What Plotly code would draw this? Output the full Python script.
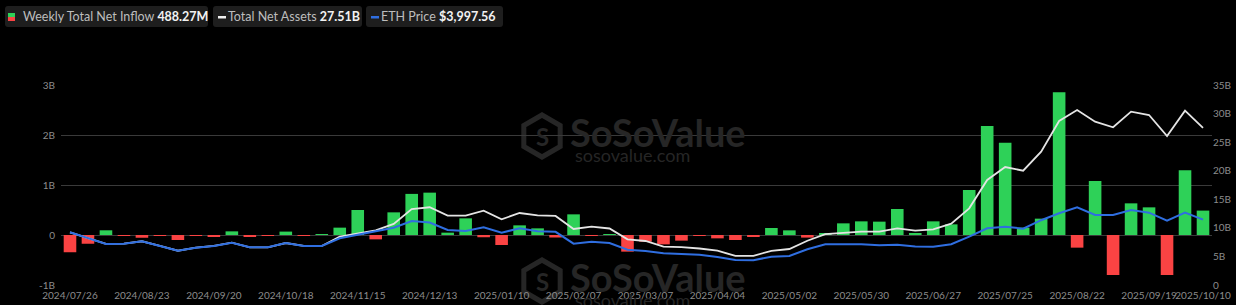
import pandas as pd
import plotly.graph_objects as go

# ---------------- DATA ----------------
weeks = [d.strftime("%Y/%m/%d") for d in pd.date_range("2024-07-26", periods=64, freq="7D")]

# Weekly total net inflow (USD)
net_inflow_b = [
    -0.345, -0.175, 0.094, -0.014, -0.055, -0.006, -0.100, -0.012, -0.022, 0.073,
    -0.022, -0.006, 0.068, -0.020, 0.008, 0.147, 0.500, -0.087, 0.453, 0.822,
    0.847, 0.047, 0.333, -0.045, -0.200, 0.193, 0.133, -0.050, 0.413, -0.020,
    0.003, -0.333, -0.133, -0.187, -0.113, -0.006, -0.067, -0.100, -0.030, 0.140,
    0.093, -0.052, 0.027, 0.233, 0.273, 0.267, 0.520, 0.033, 0.273, 0.213,
    0.900, 2.180, 1.847, 0.147, 0.327, 2.853, -0.253, 1.080, -0.800, 0.633,
    0.553, -0.800, 1.293, 0.48827,
]
net_inflow = [v * 1e9 for v in net_inflow_b]

# Total net assets (USD)
total_assets_b = [
    9.22, 8.23, 7.18, 7.23, 7.65, 6.83, 6.00, 6.53, 6.83, 7.40,
    6.60, 6.60, 7.35, 6.85, 6.83, 8.45, 9.05, 9.57, 10.68, 13.30,
    13.60, 12.13, 12.13, 13.00, 11.50, 12.60, 12.20, 12.08, 9.80, 10.20,
    9.89, 8.00, 7.70, 6.70, 6.62, 6.39, 6.00, 5.08, 5.11, 5.99,
    6.30, 7.74, 8.89, 9.14, 9.33, 9.33, 9.92, 9.50, 9.75, 10.73,
    13.42, 18.38, 20.65, 20.00, 23.33, 28.70, 30.63, 28.58, 27.60, 30.33,
    29.75, 26.08, 30.50, 27.51,
]
total_assets = [v * 1e9 for v in total_assets_b]

# ETH price (USD)
eth_price = [
    3300, 2985, 2655, 2672, 2804, 2545, 2287, 2452, 2545, 2727,
    2474, 2474, 2710, 2545, 2545, 2969, 3150, 3332, 3552, 3920,
    3838, 3425, 3370, 3574, 3277, 3519, 3359, 3326, 2672, 2782,
    2710, 2342, 2270, 2144, 2105, 2067, 1940, 1775, 1764, 1957,
    1995, 2369, 2644, 2655, 2639, 2589, 2611, 2518, 2507, 2644,
    3057, 3519, 3607, 3497, 3964, 4344, 4674, 4250, 4250, 4525,
    4377, 3937, 4377, 3997.56,
]

x_tick_idx = list(range(0, 64, 4)) + [63]
x_tick_labels = [weeks[i] for i in x_tick_idx]

left_tickvals = [-1e9, 0, 1e9, 2e9, 3e9]
left_ticktext = ["-1B", "0", "1B", "2B", "3B"]
right_tickvals = [0, 5e9, 10e9, 15e9, 20e9, 25e9, 30e9, 35e9]
right_ticktext = ["0", "5B", "10B", "15B", "20B", "25B", "30B", "35B"]

legend_labels = ["Weekly Total Net Inflow", "Total Net Assets", "ETH Price"]
legend_values = ["488.27M", "27.51B", "$3,997.56"]

# ---------------- STYLE ----------------
GREEN = "#2ed158"
RED = "#fa4343"
WHITE_LINE = "#e4e4e4"
BLUE_LINE = "#2f6ee0"
BG = "#000000"
FONT = "Lato"

W, H = 1236, 305
L, R, T, B = 61, 1212, 85, 285
PW, PH = R - L, B - T


def px2x(px):
    return (px - L) / PW


def px2y(py):
    return (B - py) / PH


def rrect(x0, y0, x1, y1, r=3):
    ax0, ax1 = px2x(x0), px2x(x1)
    ay0, ay1 = px2y(y0), px2y(y1)
    rx, ry = r / PW, r / PH
    return (f"M{ax0+rx},{ay0} L{ax1-rx},{ay0} Q{ax1},{ay0} {ax1},{ay0-ry} "
            f"L{ax1},{ay1+ry} Q{ax1},{ay1} {ax1-rx},{ay1} L{ax0+rx},{ay1} "
            f"Q{ax0},{ay1} {ax0},{ay1+ry} L{ax0},{ay0-ry} Q{ax0},{ay0} {ax0+rx},{ay0} Z")


bar_colors = [GREEN if v >= 0 else RED for v in net_inflow]

fig = go.Figure()
fig.add_trace(go.Bar(x=weeks, y=net_inflow, marker=dict(color=bar_colors, line=dict(width=0)),
                     yaxis="y", name=legend_labels[0]))
fig.add_trace(go.Scatter(x=weeks, y=total_assets, mode="lines", line=dict(color=WHITE_LINE, width=1.8),
                         yaxis="y2", name=legend_labels[1]))
fig.add_trace(go.Scatter(x=weeks, y=eth_price, mode="lines", line=dict(color=BLUE_LINE, width=2),
                         yaxis="y3", name=legend_labels[2]))

shapes = []
annotations = []

# legend badges
boxes = [(5, 208), (213, 362), (366, 503)]
text_x = [21, 226, 379]
for (bx0, bx1) in boxes:
    shapes.append(dict(type="path", xref="paper", yref="paper", path=rrect(bx0, 6, bx1, 27, 3),
                       fillcolor="#1e1e1e", line=dict(width=0), layer="below"))
# icons
shapes.append(dict(type="rect", xref="paper", yref="paper", x0=px2x(8), x1=px2x(15), y0=px2y(13), y1=px2y(17),
                   fillcolor=GREEN, line=dict(width=0)))
shapes.append(dict(type="rect", xref="paper", yref="paper", x0=px2x(8), x1=px2x(15), y0=px2y(17), y1=px2y(21),
                   fillcolor=RED, line=dict(width=0)))
shapes.append(dict(type="rect", xref="paper", yref="paper", x0=px2x(218), x1=px2x(226), y0=px2y(16), y1=px2y(18.5),
                   fillcolor="#f0f0f0", line=dict(width=0)))
shapes.append(dict(type="rect", xref="paper", yref="paper", x0=px2x(371), x1=px2x(379), y0=px2y(16), y1=px2y(18.5),
                   fillcolor=BLUE_LINE, line=dict(width=0)))
for lbl, val, tx in zip(legend_labels, legend_values, text_x):
    annotations.append(dict(xref="paper", yref="paper", x=px2x(tx), y=px2y(17), xanchor="left", yanchor="middle",
                            showarrow=False,
                            text=f"<span style='color:#bdbdbd'>{lbl}</span> <b style='color:#f2f2f2'>{val}</b>",
                            font=dict(family=FONT, size=12.5, color="#bdbdbd")))

# watermarks
WM = "#262626"
for dy in (0, 145):
    cx, cy, rr = 542, 136 + dy, 21
    hexpath = "M" + " L".join(
        f"{px2x(cx + rr * c)},{px2y(cy + rr * s)}"
        for c, s in [(0, -1), (0.866, -0.5), (0.866, 0.5), (0, 1), (-0.866, 0.5), (-0.866, -0.5)]) + " Z"
    shapes.append(dict(type="path", xref="paper", yref="paper", path=hexpath,
                       line=dict(color=WM, width=5), layer="below"))
    annotations.append(dict(xref="paper", yref="paper", x=px2x(cx), y=px2y(cy), xanchor="center", yanchor="middle",
                            showarrow=False, text="<b>S</b>", font=dict(family=FONT, size=24, color=WM)))
    annotations.append(dict(xref="paper", yref="paper", x=px2x(568), y=px2y(132 + dy), xanchor="left",
                            yanchor="middle", showarrow=False, text="<b>SoSoValue</b>",
                            font=dict(family=FONT, size=38, color=WM)))
    annotations.append(dict(xref="paper", yref="paper", x=px2x(573), y=px2y(155 + dy), xanchor="left",
                            yanchor="middle", showarrow=False, text="sosovalue.com",
                            font=dict(family=FONT, size=18, color=WM)))

fig.update_layout(
    width=W, height=H,
    margin=dict(l=L, r=W - R, t=T, b=H - B, pad=0, autoexpand=False),
    paper_bgcolor=BG, plot_bgcolor=BG,
    showlegend=False,
    bargap=0.3,
    font=dict(family=FONT, size=11, color="#8a8a8a"),
    xaxis=dict(type="category", categoryorder="array", categoryarray=weeks, automargin=False,
               tickmode="array", tickvals=[weeks[i] for i in x_tick_idx], ticktext=x_tick_labels,
               tickangle=0, showgrid=False, zeroline=False, showline=False, ticks="",
               ticklabelstandoff=3,
               tickfont=dict(family=FONT, size=10, color="#8c8c8c"), range=[-0.5, 63.5]),
    yaxis=dict(range=[-1e9, 3e9], tickmode="array", tickvals=left_tickvals, ticktext=left_ticktext,
               automargin=False, ticklabelstandoff=5,
               showgrid=True, gridcolor="#3a3a3a", gridwidth=1, zeroline=False, showline=False, ticks="",
               tickfont=dict(family=FONT, size=10, color="#8c8c8c")),
    yaxis2=dict(range=[0, 35e9], overlaying="y", side="right", tickmode="array", tickvals=right_tickvals,
                automargin=False,
                ticktext=right_ticktext, showgrid=False, zeroline=False, showline=False, ticks="",
                tickfont=dict(family=FONT, size=10, color="#8c8c8c")),
    yaxis3=dict(range=[400, 11400], overlaying="y", visible=False),
    shapes=shapes,
    annotations=annotations,
)

fig.write_html("out.html")
